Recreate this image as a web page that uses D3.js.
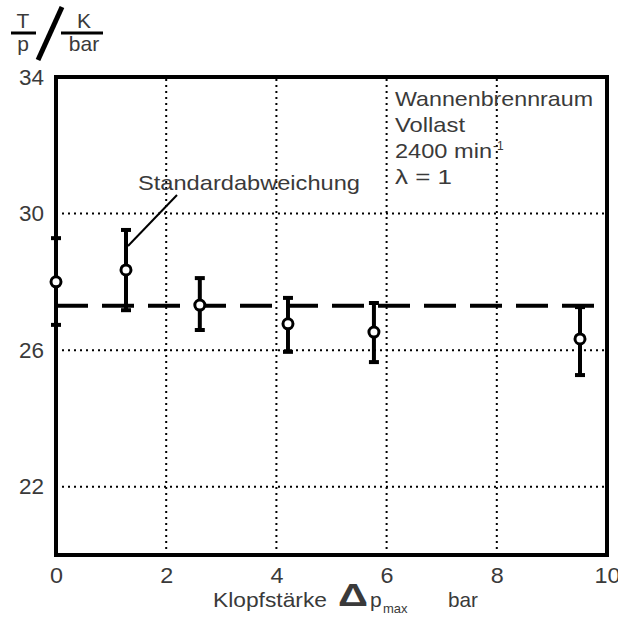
<!DOCTYPE html>
<html>
<head>
<meta charset="utf-8">
<script src="https://cdn.jsdelivr.net/npm/d3@7"></script>
<style>
	body { margin:0; background:#fff; }
	svg text { font-family: "Liberation Sans", Arial, sans-serif; fill:#3a3a3a; }
</style>
</head>
<body>
<div id="chart"></div>
<script>
/* knock strength vs. T/p, mean with standard deviation */
const knock = [0, 1.27, 2.61, 4.21, 5.77, 9.51]
const mean = [28.0, 28.35, 27.32, 26.77, 26.53, 26.33]
const low = [26.74, 27.17, 26.59, 25.95, 25.65, 25.27]
const high = [29.28, 29.52, 28.11, 27.53, 27.38, 27.26]
const avgLine = 27.3
const xTicks = [0, 2, 4, 6, 8, 10]
const yTicks = [22, 26, 30, 34]
const infoLines = ['Wannenbrennraum', 'Vollast', '2400 min', 'λ = 1']
const infoWidths = [198, 70, 97, 57]

const width = 618
const height = 617
const m = {left:56, right:11, top:77, bottom:62}
const FS = '21px'

const svg = d3.select('#chart').append('svg')
	.attr('width', width)
	.attr('height', height)

const x = d3.scaleLinear().domain([0, 10]).range([m.left, width - m.right])
const y = d3.scaleLinear().domain([20, 34]).range([height - m.bottom, m.top])

//dotted grid
svg.append('g').selectAll('line')
	.data([2, 4, 6, 8])
	.join('line')
	.attr('x1', d => x(d)).attr('x2', d => x(d))
	.attr('y1', y(20)).attr('y2', y(34))
	.attr('stroke', '#000').attr('stroke-width', 2)
	.attr('stroke-dasharray', '2,4')
svg.append('g').selectAll('line')
	.data([22, 26, 30])
	.join('line')
	.attr('x1', x(0)).attr('x2', x(10))
	.attr('y1', d => y(d)).attr('y2', d => y(d))
	.attr('stroke', '#000').attr('stroke-width', 2)
	.attr('stroke-dasharray', '2,4')

//axes (labels only, frame drawn separately)
const xAxis = svg.append('g')
	.attr('transform', `translate(0,${y(20)})`)
	.call(d3.axisBottom(x).tickValues(xTicks).tickSize(0).tickPadding(12))
xAxis.select('.domain').remove()
xAxis.selectAll('text').style('font-size', '22px').attr('fill', '#3a3a3a')
	.attr('textLength', d => d >= 10 ? 26 : 13).attr('lengthAdjust', 'spacingAndGlyphs')

const yAxis = svg.append('g')
	.attr('transform', `translate(${x(0)},0)`)
	.call(d3.axisLeft(y).tickValues(yTicks).tickSize(0).tickPadding(12))
yAxis.select('.domain').remove()
yAxis.selectAll('text').style('font-size', '22px').attr('fill', '#3a3a3a')
	.attr('textLength', 25).attr('lengthAdjust', 'spacingAndGlyphs')

//mean dashed line
svg.append('line')
	.attr('x1', x(0)).attr('x2', x(9.88))
	.attr('y1', y(avgLine)).attr('y2', y(avgLine))
	.attr('stroke', '#000').attr('stroke-width', 4)
	.attr('stroke-dasharray', '32,14')

//frame
svg.append('rect')
	.attr('x', x(0)).attr('y', y(34))
	.attr('width', x(10) - x(0)).attr('height', y(20) - y(34))
	.attr('fill', 'none').attr('stroke', '#000').attr('stroke-width', 4)

//error bars + points
const pts = knock.map((k, i) => ({k:k, m:mean[i], lo:low[i], hi:high[i]}))
const g = svg.append('g').selectAll('g').data(pts).join('g')
g.append('line')
	.attr('x1', d => x(d.k)).attr('x2', d => x(d.k))
	.attr('y1', d => y(d.lo)).attr('y2', d => y(d.hi))
	.attr('stroke', '#000').attr('stroke-width', 4)
g.selectAll('.cap').data(d => [[d.k, d.lo], [d.k, d.hi]]).join('line')
	.attr('class', 'cap')
	.attr('x1', d => x(d[0]) - 5).attr('x2', d => x(d[0]) + 5)
	.attr('y1', d => y(d[1])).attr('y2', d => y(d[1]))
	.attr('stroke', '#000').attr('stroke-width', 4)
g.append('circle')
	.attr('cx', d => x(d.k)).attr('cy', d => y(d.m))
	.attr('r', 5)
	.attr('fill', '#fff').attr('stroke', '#000').attr('stroke-width', 3)

//annotation
svg.append('text')
	.attr('x', 138).attr('y', 190)
	.style('font-size', FS)
	.attr('textLength', 222).attr('lengthAdjust', 'spacingAndGlyphs')
	.text('Standardabweichung')
svg.append('line')
	.attr('x1', 177).attr('y1', 195)
	.attr('x2', x(knock[1]) + 2).attr('y2', 246)
	.attr('stroke', '#000').attr('stroke-width', 2)

//info block
infoLines.forEach((t, i) => {
	svg.append('text')
		.attr('x', 395).attr('y', 106 + i * 26)
		.style('font-size', FS)
		.attr('textLength', infoWidths[i]).attr('lengthAdjust', 'spacingAndGlyphs')
		.text(t)
})
svg.append('text').attr('x', 493).attr('y', 150).style('font-size', '12px').text('-1')

//y label: T/p / K/bar
const yl = svg.append('g')
yl.append('text').attr('x', 23).attr('y', 28).attr('text-anchor', 'middle').style('font-size', FS).text('T')
yl.append('text').attr('x', 23).attr('y', 51).attr('text-anchor', 'middle').style('font-size', FS).text('p')
yl.append('line').attr('x1', 11).attr('x2', 36).attr('y1', 33).attr('y2', 33).attr('stroke', '#000').attr('stroke-width', 3)
yl.append('text').attr('x', 84).attr('y', 28).attr('text-anchor', 'middle').style('font-size', FS).text('K')
yl.append('text').attr('x', 84).attr('y', 51).attr('text-anchor', 'middle').style('font-size', FS).text('bar')
yl.append('line').attr('x1', 61).attr('x2', 103).attr('y1', 33).attr('y2', 33).attr('stroke', '#000').attr('stroke-width', 3)
yl.append('line').attr('x1', 62).attr('y1', 7).attr('x2', 38).attr('y2', 60).attr('stroke', '#000').attr('stroke-width', 5)

//x label
svg.append('text').attr('x', 213).attr('y', 607).style('font-size', FS)
	.attr('textLength', 114).attr('lengthAdjust', 'spacingAndGlyphs')
	.text('Klopfstärke')
svg.append('text').attr('x', 338).attr('y', 606)
	.style('font-size', '32px').style('font-weight', 'bold').attr('fill', '#000')
	.attr('textLength', 30).attr('lengthAdjust', 'spacingAndGlyphs')
	.text('Δ')
svg.append('text').attr('x', 370).attr('y', 607).style('font-size', FS).text('p')
svg.append('text').attr('x', 383).attr('y', 613).style('font-size', '13px').text('max')
svg.append('text').attr('x', 448).attr('y', 607).style('font-size', FS)
	.attr('textLength', 30).attr('lengthAdjust', 'spacingAndGlyphs')
	.text('bar')
</script>
</body>
</html>
